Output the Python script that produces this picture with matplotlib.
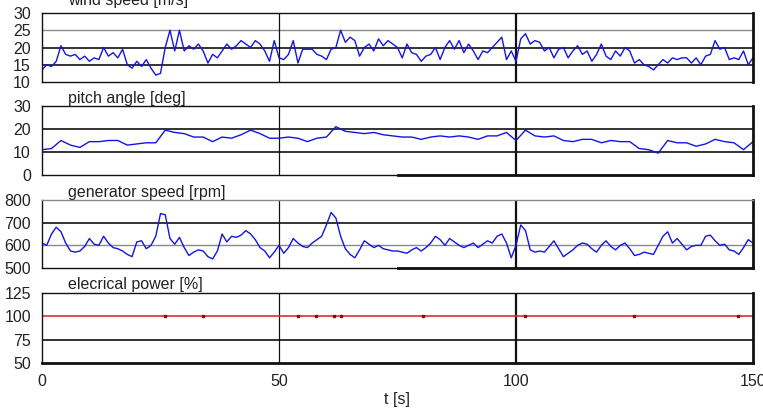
import numpy as np
import matplotlib
matplotlib.use("Agg")
import matplotlib.pyplot as plt
from matplotlib.transforms import offset_copy

# ---------------- data ----------------
t_wind = np.arange(0, 151, 1)
wind_speed = [
    13.5, 15, 14.5, 16, 20.5, 18, 17.5, 18, 16.5, 17.5,
    16, 17, 16.5, 20, 17.5, 18.5, 17, 19.5, 15, 14,
    16, 14.5, 16.5, 14, 12, 12.5, 20, 25, 19, 25,
    19, 20.5, 19.5, 21, 19, 15.5, 18, 17, 19, 21,
    19.5, 20.5, 22, 21, 20, 22, 21, 19, 16, 22,
    17, 16.5, 18, 22, 15.5, 19.5, 19.5, 19.5, 18, 17.5,
    16.5, 19.5, 20, 25, 21.5, 23, 22, 17.5, 20, 21,
    19, 22.5, 20.5, 22, 21, 20, 17, 21, 18.5, 18,
    16, 17.5, 18, 20, 16.5, 20, 22, 19.5, 22, 18.5,
    21, 19, 16.5, 19, 18.5, 20, 21.5, 23, 16.5, 19,
    16, 22.5, 24, 21, 22, 21.5, 19, 20, 17, 19.5,
    20, 17, 19, 20.5, 18, 19, 16, 18, 21, 17.5,
    16.5, 19, 17.5, 20, 19, 15.5, 16.5, 15, 14.5, 13.5,
    15, 16.5, 15.5, 17, 16.5, 17, 17, 15.5, 17, 15,
    17.5, 18, 22, 19.5, 20, 16.5, 17, 16.5, 19, 15,
    17,
]

t_pitch = np.arange(0, 151, 2)
pitch_angle = [
    11, 11.5, 15, 13, 12, 14.5, 14.5, 15, 15, 13,
    13.5, 14, 14, 19.5, 18.5, 18, 16.5, 16.5, 14.5, 16.5,
    16, 17.5, 19.5, 18, 16, 16, 16.5, 16, 14.5, 16,
    16.5, 21, 19, 18.5, 18, 18.5, 17.5, 17, 16.5, 16.5,
    15.5, 16.5, 17, 16.5, 17, 16.5, 15.5, 17, 17, 18.5,
    15, 19.5, 17, 16.5, 17, 15, 14.5, 15.5, 15.5, 14,
    15, 14.5, 14.5, 11.5, 11, 9.5, 15, 14, 14, 12.5,
    13.5, 15.5, 14.5, 14, 11, 14.5,
]

t_gen = np.arange(0, 151, 1)
generator_speed = [
    610, 600, 650, 680, 660, 610, 575, 570, 575, 595,
    630, 605, 600, 640, 610, 590, 585, 575, 560, 550,
    615, 620, 585, 600, 640, 740, 735, 630, 605, 635,
    590, 555, 570, 580, 575, 550, 540, 575, 650, 615,
    640, 635, 645, 665, 650, 625, 590, 575, 545, 570,
    600, 565, 590, 630, 610, 595, 590, 610, 625, 640,
    690, 745, 720, 640, 585, 560, 545, 580, 620, 605,
    590, 600, 585, 580, 575, 575, 570, 565, 580, 590,
    575, 590, 610, 640, 625, 600, 630, 615, 600, 590,
    600, 610, 590, 605, 620, 610, 640, 650, 610, 545,
    600, 690, 665, 580, 570, 575, 570, 595, 620, 585,
    550, 565, 580, 600, 610, 605, 585, 570, 600, 620,
    595, 580, 600, 610, 585, 555, 560, 570, 565, 560,
    600, 640, 660, 610, 630, 605, 580, 595, 600, 600,
    640, 645, 620, 600, 605, 580, 575, 560, 590, 625,
    610,
]

t_power = [0, 150]
power = [100, 100]
t_power_dots = [26, 33.9, 54.1, 57.8, 61.7, 63, 80.4, 102, 124.9, 146.9]
power_dots = [100, 100, 100, 100, 100, 100, 100, 100, 100, 100]

titles = ["wind speed [m/s]", "pitch angle [deg]",
          "generator speed [rpm]", "elecrical power [%]"]
y_ticks = [[10, 15, 20, 25, 30], [0, 10, 20, 30],
           [500, 600, 700, 800], [50, 75, 100, 125]]
grid_dark = [[15, 20], [10, 20], [700], [75]]
grid_light = [[25], [], [600], []]
x_ticks = [0, 50, 100, 150]
x_label = "t [s]"

# ---------------- figure ----------------
plt.rcParams["font.family"] = ["Liberation Sans", "DejaVu Sans"]
FS = 11.5
fig = plt.figure(figsize=(7.63, 4.09), dpi=100)

H = 409.0
left = 42 / 763.0
width = 711 / 763.0
frames = [(13, 82), (106, 175), (200, 268), (293, 363)]
title_lift = [5, 0, 0, 1]  # pixels

blue = "#1414e6"
red = "#d83030"

axes = []
for i, (top, bot) in enumerate(frames):
    ax = fig.add_axes([left, 1 - bot / H, width, (bot - top) / H])
    axes.append(ax)
    ax.set_xlim(0, 150)
    ax.set_ylim(y_ticks[i][0], y_ticks[i][-1])
    ax.set_yticks(y_ticks[i])
    ax.set_yticklabels([str(v) for v in y_ticks[i]], fontsize=FS)
    ax.tick_params(axis="both", length=0, pad=8, labelcolor="#222222")
    ax.set_xticks(x_ticks)
    if i < 3:
        ax.set_xticklabels([])
    else:
        ax.set_xticklabels([str(v) for v in x_ticks], fontsize=FS)
        ax.set_xlabel(x_label, fontsize=FS, labelpad=2, color="#222222")
    for g in grid_dark[i]:
        ax.axhline(g, color="#111111", lw=1.2, zorder=1)
    for g in grid_light[i]:
        ax.axhline(g, color="#8a8a8a", lw=1.0, zorder=1)
    ax.axvline(50, color="#111111", lw=0.9, zorder=1)
    ax.axvline(100, color="#111111", lw=1.6, zorder=1)
    for s in ["top", "bottom", "left"]:
        ax.spines[s].set_color("#111111")
        ax.spines[s].set_linewidth(1.0)
    ax.spines["right"].set_color("#111111")
    ax.spines["right"].set_linewidth(2.0)
    tr = offset_copy(ax.transAxes, fig=fig, x=0, y=title_lift[i], units="dots")
    ax.text(0.037, 1.0, titles[i], transform=tr, ha="left",
            va="bottom", fontsize=FS, color="#222222")

axes[2].spines["top"].set_color("#8a8a8a")
axes[3].spines["bottom"].set_linewidth(2.0)
axes[1].axhline(y_ticks[1][0], xmin=0.5, xmax=1.0, color="#111111", lw=2.0, zorder=3, clip_on=False)
axes[2].axhline(y_ticks[2][0], xmin=0.5, xmax=1.0, color="#111111", lw=2.0, zorder=3, clip_on=False)

axes[0].plot(t_wind, wind_speed, color=blue, lw=1.0, zorder=2)
axes[1].plot(t_pitch, pitch_angle, color=blue, lw=1.0, zorder=2)
axes[2].plot(t_gen, generator_speed, color=blue, lw=1.0, zorder=2)
axes[3].plot(t_power, power, color=red, lw=1.2, zorder=2)
axes[3].plot(t_power_dots, power_dots, ls="none", marker="s", ms=2,
             color="#7a1010", zorder=3)

fig.savefig("out.png", dpi=100)
